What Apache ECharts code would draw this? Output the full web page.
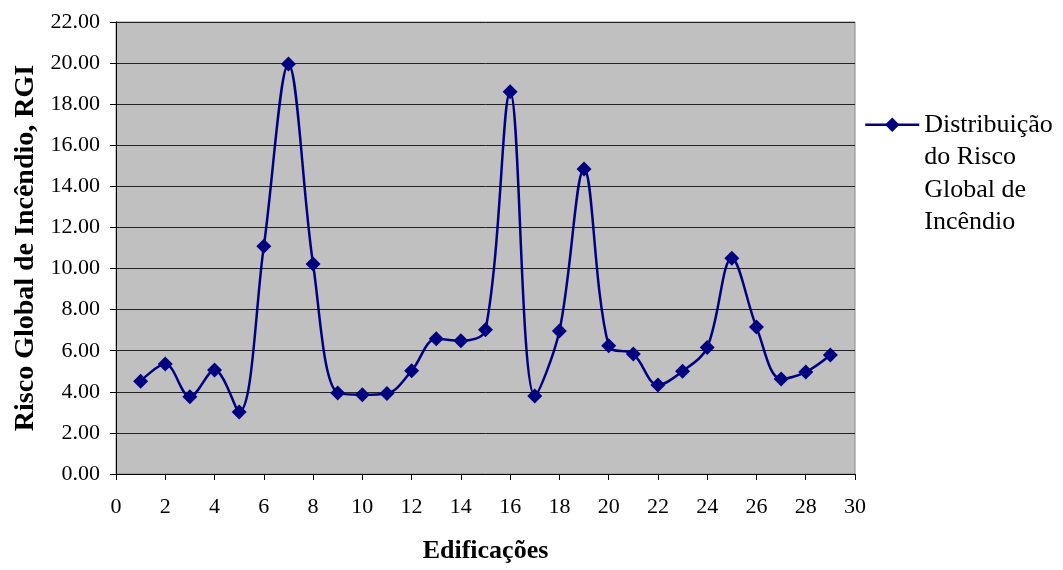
<!DOCTYPE html>
<html>
<head>
<meta charset="utf-8">
<script src="https://cdn.jsdelivr.net/npm/echarts@6/dist/echarts.min.js"></script>
<style>html,body{margin:0;padding:0;background:#fff}#c{width:1063px;height:570px}</style>
</head>
<body>
<div id="c"></div>
<script>
const buildings = [1,2,3,4,5,6,7,8,9,10,11,12,13,14,15,16,17,18,19,20,21,22,23,24,25,26,27,28,29];
const rgi = [4.52,5.35,3.76,5.06,3.02,11.08,19.95,10.22,3.94,3.86,3.92,5.02,6.58,6.48,7.02,18.6,3.8,6.96,14.84,6.24,5.84,4.33,5.0,6.16,10.5,7.15,4.62,4.96,5.79];
const seriesName = 'Distribuição\ndo Risco\nGlobal de\nIncêndio';
const xTitle = 'Edificações';
const yTitle = 'Risco Global de Incêndio, RGI';

const font = 'Liberation Serif';
const chart = echarts.init(document.getElementById('c'));
chart.setOption({
  animation: false,
  backgroundColor: '#fff',
  grid: {left: 116, top: 22, right: 208, bottom: 96, show: true, backgroundColor: '#C0C0C0', borderColor: '#888', borderWidth: 1},
  xAxis: {
    type: 'value', min: 0, max: 30, interval: 2,
    name: xTitle, nameLocation: 'middle', nameGap: 64,
    nameTextStyle: {fontFamily: font, fontSize: 26, fontWeight: 'bold', color: '#000'},
    axisLine: {show: true, onZero: false, lineStyle: {color: '#000', width: 1}},
    axisTick: {show: true, length: 6, lineStyle: {color: '#000'}},
    axisLabel: {fontFamily: font, fontSize: 22, color: '#000', margin: 22},
    splitLine: {show: false}
  },
  yAxis: {
    type: 'value', min: 0, max: 22, interval: 2,
    name: yTitle, nameLocation: 'middle', nameGap: 76,
    nameTextStyle: {fontFamily: font, fontSize: 28, fontWeight: 'bold', color: '#000'},
    axisLine: {show: true, lineStyle: {color: '#000', width: 1}},
    axisTick: {show: true, length: 6, lineStyle: {color: '#000'}},
    axisLabel: {fontFamily: font, fontSize: 22, color: '#000', margin: 16, formatter: v => v.toFixed(2)},
    splitLine: {show: true, lineStyle: {color: '#222', width: 1}}
  },
  legend: {
    show: true, orient: 'vertical', left: 859, top: 6,
    itemWidth: 54, itemHeight: 18, itemGap: 0,
    formatter: name => '\n\n\n' + name,
    lineStyle: {width: 2.5},
    textStyle: {fontFamily: font, fontSize: 26, color: '#000', lineHeight: 32.5},
    data: [seriesName]
  },
  series: [{
    name: seriesName, type: 'line', smooth: 0.35,
    data: buildings.map((b, i) => [b, rgi[i]]),
    symbol: 'diamond', symbolSize: 15,
    lineStyle: {color: '#000080', width: 2.5},
    itemStyle: {color: '#000080'}
  }]
});
</script>
</body>
</html>
